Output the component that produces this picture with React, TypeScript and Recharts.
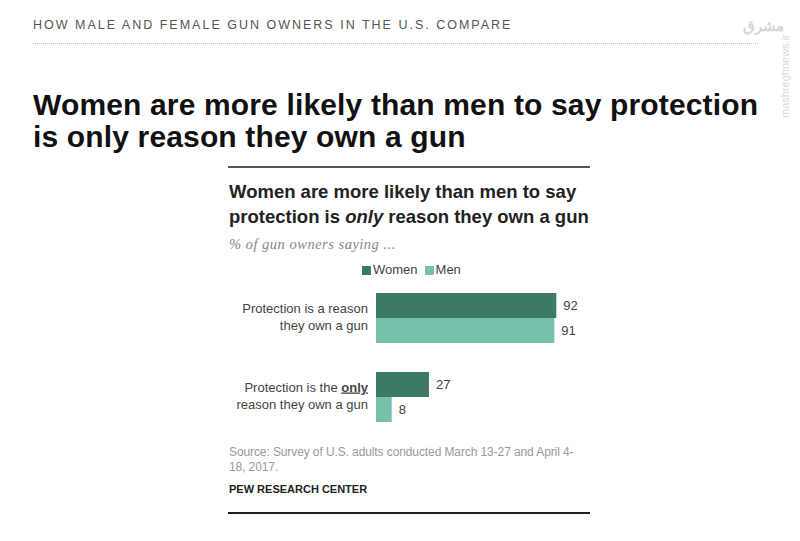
import React from "react";
import { BarChart, Bar, XAxis, YAxis, Legend, LabelList } from "recharts";

const WOMEN_COLOR = "#3c7a68";
const MEN_COLOR = "#76c0ac";
const FONT = "'Liberation Sans', Arial, sans-serif";

const categories = ["Protection is a reason", "Protection is the only reason"];
const womenValues = [92, 27];
const menValues = [91, 8];
// tick label lines; the second part of line one is emphasised
const labelLineOne = ["Protection is a reason", "Protection is the "];
const labelEmphasis = ["", "only"];
const labelLineTwo = ["they own a gun", "reason they own a gun"];
const seriesNames = ["Women", "Men"];

const data = categories.map((category, i) => ({
  category,
  women: womenValues[i],
  men: menValues[i],
}));

function CategoryTick(props: any) {
  const { x, y, index } = props;
  return (
    <text x={x} y={y} textAnchor="end" fontSize={13} fill="#444" fontFamily={FONT}>
      <tspan x={x} dy={-5}>
        {labelLineOne[index]}
        {labelEmphasis[index] ? (
          <tspan fontWeight="bold" style={{ textDecoration: "underline" }}>
            {labelEmphasis[index]}
          </tspan>
        ) : null}
      </tspan>
      <tspan x={x} dy={17}>
        {labelLineTwo[index]}
      </tspan>
    </text>
  );
}

function LegendContent() {
  const colors = [WOMEN_COLOR, MEN_COLOR];
  return (
    <div style={{ display: "flex", height: 16, lineHeight: "16px", fontSize: 13, color: "#444", fontFamily: FONT }}>
      {seriesNames.map((name, i) => (
        <div key={name} style={{ display: "flex", alignItems: "center", marginRight: 7 }}>
          <span style={{ width: 9, height: 9, background: colors[i], marginRight: 2, display: "inline-block" }} />
          <span>{name}</span>
        </div>
      ))}
    </div>
  );
}

export default function App() {
  return (
    <div
      style={{
        position: "absolute",
        left: 0,
        top: 0,
        width: 800,
        height: 541,
        background: "#fff",
        fontFamily: FONT,
        overflow: "hidden",
      }}
    >
      <div
        style={{
          position: "absolute",
          left: 33,
          top: 18,
          fontSize: 12.5,
          lineHeight: "14px",
          letterSpacing: 2,
          color: "#555",
          whiteSpace: "nowrap",
        }}
      >
        HOW MALE AND FEMALE GUN OWNERS IN THE U.S. COMPARE
      </div>
      <div style={{ position: "absolute", left: 33, top: 43, width: 725, borderTop: "1px dotted #c4c4c4" }} />

      {/* watermark */}
      <div
        style={{
          position: "absolute",
          left: 748,
          top: 14,
          width: 36,
          textAlign: "center",
          fontSize: 15,
          lineHeight: "24px",
          color: "#d6d6d6",
          fontWeight: "bold",
          direction: "rtl",
        }}
      >
        مشرق
      </div>
      <div
        style={{
          position: "absolute",
          left: 779,
          top: 118,
          transform: "rotate(-90deg)",
          transformOrigin: "0 0",
          fontSize: 11,
          color: "#d8d8d8",
          whiteSpace: "nowrap",
        }}
      >
        mashreghnews.ir
      </div>

      <div
        style={{
          position: "absolute",
          left: 33,
          top: 89,
          fontSize: 30,
          lineHeight: "32px",
          fontWeight: "bold",
          letterSpacing: 0.15,
          color: "#111",
          whiteSpace: "nowrap",
        }}
      >
        Women are more likely than men to say protection
        <br />
        is only reason they own a gun
      </div>

      <div style={{ position: "absolute", left: 228, top: 166, width: 362, height: 2, background: "#555" }} />
      <div
        style={{
          position: "absolute",
          left: 229,
          top: 179,
          fontSize: 18.5,
          lineHeight: "25px",
          fontWeight: "bold",
          color: "#222",
          whiteSpace: "nowrap",
        }}
      >
        Women are more likely than men to say
        <br />
        protection is <i>only</i> reason they own a gun
      </div>
      <div
        style={{
          position: "absolute",
          left: 229,
          top: 236,
          fontSize: 14.5,
          lineHeight: "16px",
          letterSpacing: 0.5,
          fontStyle: "italic",
          fontFamily: "'Liberation Serif', 'DejaVu Serif', serif",
          color: "#888",
          whiteSpace: "nowrap",
        }}
      >
        % of gun owners saying ...
      </div>

      <div style={{ position: "absolute", left: 220, top: 262 }}>
        <BarChart
          width={392}
          height={174}
          data={data}
          layout="vertical"
          margin={{ top: 0, right: 40, bottom: 0, left: 0 }}
          barGap={0}
          barCategoryGap={0}
        >
          <XAxis type="number" domain={[0, 100]} hide />
          <YAxis
            type="category"
            dataKey="category"
            width={156}
            axisLine={false}
            tickLine={false}
            tick={<CategoryTick />}
          />
          <Legend
            verticalAlign="top"
            align="left"
            height={16}
            wrapperStyle={{ left: 142, top: 0 }}
            content={<LegendContent />}
          />
          <Bar dataKey="women" name="Women" fill={WOMEN_COLOR} barSize={25} isAnimationActive={false}>
            <LabelList dataKey="women" position="right" offset={7} fill="#444" fontSize={13} fontFamily={FONT} />
          </Bar>
          <Bar dataKey="men" name="Men" fill={MEN_COLOR} barSize={25} isAnimationActive={false}>
            <LabelList dataKey="men" position="right" offset={7} fill="#444" fontSize={13} fontFamily={FONT} />
          </Bar>
        </BarChart>
      </div>

      <div
        style={{
          position: "absolute",
          left: 229,
          top: 445,
          fontSize: 12,
          lineHeight: "14.5px",
          color: "#999",
          whiteSpace: "nowrap",
          letterSpacing: -0.1,
        }}
      >
        Source: Survey of U.S. adults conducted March 13-27 and April 4-
        <br />
        18, 2017.
      </div>
      <div
        style={{
          position: "absolute",
          left: 229,
          top: 483,
          fontSize: 11,
          lineHeight: "13px",
          fontWeight: "bold",
          color: "#222",
          whiteSpace: "nowrap",
        }}
      >
        PEW RESEARCH CENTER
      </div>
      <div style={{ position: "absolute", left: 228, top: 512, width: 362, height: 2, background: "#222" }} />
    </div>
  );
}
